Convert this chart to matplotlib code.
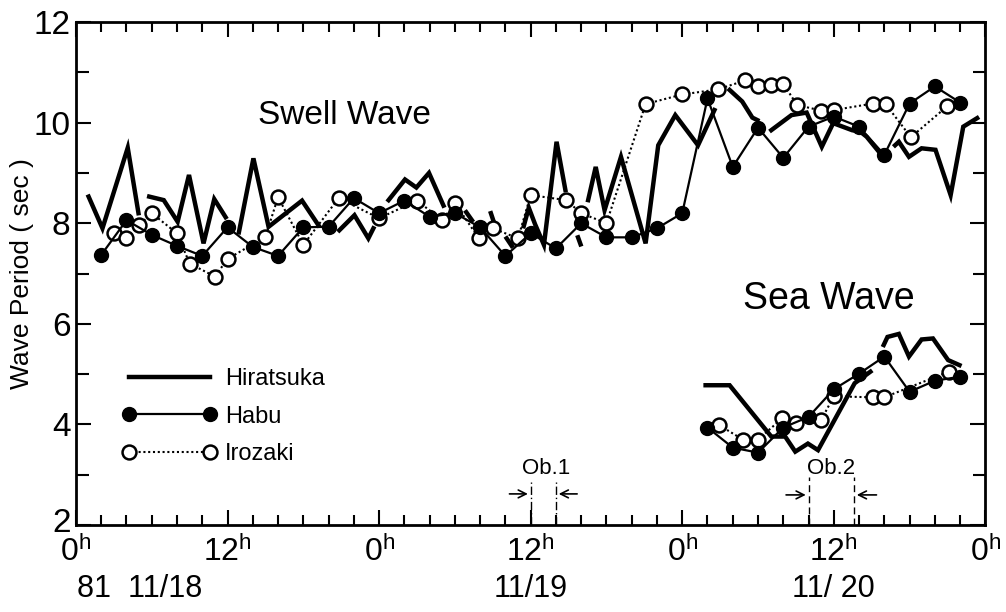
import matplotlib
matplotlib.use("Agg")
import matplotlib.pyplot as plt
from matplotlib.lines import Line2D
import matplotlib.transforms as mtransforms
import numpy as np

plt.rcParams['font.family'] = ['Liberation Sans', 'DejaVu Sans']
plt.rcParams['mathtext.default'] = 'regular'

nan = np.nan

# --- Swell wave ---
hira_swell_t = [1.0, 2.1, 4.1, 4.95, nan,
                5.8, 6.95, 8.05, 8.95, 10.1, 10.95, 11.85, nan,
                12.9, 14.05, 15.25, 17.9, 19.2, nan,
                20.85, 22.05, 23.15, 23.55, nan,
                24.75, 26.05, 26.95, 27.95, 29.1, nan,
                30.9, 31.35, nan, 32.85, 33.05, nan, 34.1, 34.5, nan,
                35.45, 35.85, 36.35, 37.05, 38.05, 38.75, nan,
                39.75, 39.95, nan,
                40.55, 41.15, 41.85, 43.15, 45.1, 46.1, 47.45, 49.25, 50.55, nan,
                51.75, 52.75, 53.55, 53.95, nan,
                55.05, 56.65, 57.85, 59.05, 59.95, 61.45, 62.1, 62.6, 63.9, nan,
                64.85, 65.15, 65.95, 66.95, 68.05, 69.25, 70.25, 71.35]
hira_swell_v = [8.53, 7.9, 9.5, 8.2, nan,
                8.53, 8.46, 8.03, 8.96, 7.6, 8.48, 8.12, nan,
                7.82, 9.29, 7.93, 8.45, 7.96, nan,
                7.86, 8.16, 7.7, 7.9, nan,
                8.46, 8.87, 8.71, 9.0, 8.35, nan,
                8.22, 8.06, nan, 8.2, 8.05, nan, 7.7, 7.55, nan,
                7.94, 8.31, 7.98, 7.57, 9.62, 8.66, nan,
                7.72, 7.58, nan,
                8.46, 9.12, 8.26, 9.32, 7.6, 9.55, 10.15, 9.55, 10.25, nan,
                10.65, 10.42, 10.1, 10.05, nan,
                9.85, 10.15, 10.2, 9.52, 9.99, 9.85, 9.82, 9.72, 9.32, nan,
                9.55, 9.62, 9.32, 9.49, 9.46, 8.56, 9.92, 10.09]

habu_swell_t = [2, 4, 6, 8, 10, 12, 14, 16, 18, 20, 22, 24, 26, 28, 30, 32, 34, 36,
                38, 40, 42, 44, 46, 48, 50, 52, 54, 56, 58, 60, 62, 64, 66, 68, 70]
habu_swell_v = [7.37, 8.06, 7.77, 7.55, 7.35, 7.92, 7.53, 7.35, 7.92, 7.93, 8.5, 8.2,
                8.45, 8.13, 8.2, 7.92, 7.35, 7.8, 7.5, 8.0, 7.72, 7.72, 7.9, 8.2,
                10.48, 9.12, 9.9, 9.3, 9.92, 10.12, 9.92, 9.36, 10.38, 10.72, 10.4]

iro_swell_t = [3.0, 4.0, 5.0, 6.0, 8.0, 9.0, 11.0, 12.0, 15.0, 16.0, 18.0, 20.8,
               24.0, 27.0, 29.0, 30.0, 31.9, 33.0, 35.0, 36.0, 38.8, 40.0, 42.0,
               45.1, 48.0, 50.8, 53.0, 54.0, 55.0, 56.0, 57.1, 59.0, 60.0, 63.1,
               64.1, 66.1, 69.0]
iro_swell_v = [7.8, 7.7, 7.96, 8.2, 7.8, 7.2, 6.94, 7.29, 7.73, 8.52, 7.57, 8.5,
               8.1, 8.45, 8.06, 8.4, 7.7, 7.9, 7.7, 8.56, 8.46, 8.2, 8.0,
               10.37, 10.56, 10.66, 10.84, 10.73, 10.75, 10.77, 10.35, 10.24, 10.25,
               10.38, 10.37, 9.71, 10.33]

# --- Sea wave ---
hira_sea_t = [49.85, 51.75, 55.05, 56.15, 56.95, 57.95, 58.75, 61.65, 62.9, nan,
              63.95, 64.25, 65.15, 65.95, 66.95, 67.85, 69.05, 69.95]
hira_sea_v = [4.78, 4.78, 3.76, 3.76, 3.46, 3.62, 3.49, 4.82, 5.05, nan,
              5.58, 5.74, 5.8, 5.35, 5.69, 5.71, 5.28, 5.18]

habu_sea_t = [50, 52, 54, 56, 58, 60, 62, 64, 66, 68, 70]
habu_sea_v = [3.94, 3.54, 3.44, 3.94, 4.15, 4.7, 5.01, 5.35, 4.65, 4.87, 4.95]

iro_sea_t = [50.9, 52.8, 54.0, 55.9, 57.0, 59.0, 60.0, 63.1, 64.0, 69.1]
iro_sea_v = [3.99, 3.7, 3.7, 4.12, 4.03, 4.09, 4.56, 4.54, 4.54, 5.05]

ob1 = [36.0, 38.0]
ob2 = [58.0, 61.6]

hour_ticks = [0, 12, 24, 36, 48, 60, 72]
hour_labels = ['0', '12', '0', '12', '0', '12', '0']

fig = plt.figure(figsize=(10.06, 6.12), dpi=100)
ax = fig.add_axes([0.0755, 0.142, 0.904, 0.822])

hira_style = dict(color='black', lw=3.2, solid_joinstyle='miter', zorder=2)
habu_style = dict(color='black', lw=1.6, marker='o', ms=10, mfc='black', mec='black', zorder=4)
iro_style = dict(color='black', lw=1.5, ls=(0, (1, 1.3)), marker='o', ms=10, mfc='white',
                 mec='black', mew=1.8, zorder=3)

ax.plot(hira_swell_t, hira_swell_v, **hira_style)
ax.plot(iro_swell_t, iro_swell_v, **iro_style)
ax.plot(habu_swell_t, habu_swell_v, **habu_style)

ax.plot(hira_sea_t, hira_sea_v, **hira_style)
ax.plot(iro_sea_t, iro_sea_v, **iro_style)
ax.plot(habu_sea_t, habu_sea_v, **habu_style)

# observation periods
for x in ob1:
    ax.plot([x, x], [2.0, 2.85], color='black', lw=1.0, ls=(0, (6, 2, 1, 2)))
for x in ob2:
    ax.plot([x, x], [2.0, 2.95], color='black', lw=1.0, ls=(0, (5, 3)))
arrow_kw = dict(arrowstyle='->', color='black', lw=1.2, mutation_scale=14)
ax.annotate('', xy=(ob1[0], 2.62), xytext=(ob1[0] - 1.9, 2.62), arrowprops=arrow_kw)
ax.annotate('', xy=(ob1[1], 2.62), xytext=(ob1[1] + 1.9, 2.62), arrowprops=arrow_kw)
ax.annotate('', xy=(ob2[0], 2.6), xytext=(ob2[0] - 2.0, 2.6), arrowprops=arrow_kw)
ax.annotate('', xy=(ob2[1], 2.6), xytext=(ob2[1] + 2.0, 2.6), arrowprops=arrow_kw)
ax.text(37.2, 3.12, 'Ob.1', fontsize=16, ha='center', va='center')
ax.text(59.8, 3.12, 'Ob.2', fontsize=16, ha='center', va='center')

ax.text(14.4, 10.15, 'Swell Wave', fontsize=24, ha='left', va='center')
ax.text(52.8, 6.5, 'Sea Wave', fontsize=27, ha='left', va='center')

# legend
handles = [Line2D([], [], **hira_style),
           Line2D([], [], **habu_style),
           Line2D([], [], **iro_style)]
leg = ax.legend(handles, ['Hiratsuka', 'Habu', 'Irozaki'], loc='upper left',
                bbox_to_anchor=(0.038, 0.335), frameon=False, fontsize=17,
                handlelength=4.0, numpoints=2, labelspacing=0.65, handletextpad=0.35,
                borderpad=0)

ax.set_xlim(0, 72)
ax.set_ylim(2, 12)
ax.set_xticks(hour_ticks)
ax.set_xticklabels(['$\\mathregular{%s^h}$' % s for s in hour_labels], fontsize=23)
ax.set_xticks(np.arange(0, 73, 2), minor=True)
ax.set_yticks([2, 4, 6, 8, 10, 12])
ax.set_yticklabels(['2', '4', '6', '8', '10', '12'], fontsize=24)
ax.set_yticks(np.arange(2, 13, 1), minor=True)
ax.tick_params(which='both', direction='in', top=True, right=True, width=1.5)
ax.tick_params(which='major', length=11)
ax.tick_params(which='minor', length=7)
ax.tick_params(axis='y', which='minor', length=9)
ax.tick_params(axis='x', which='major', pad=8)
ax.tick_params(axis='y', which='major', pad=4)
for s in ax.spines.values():
    s.set_linewidth(2)

# lift the bottom "2" a touch so it clears the first hour label
lbl2 = ax.get_yticklabels()[0]
lbl2.set_transform(lbl2.get_transform() +
                   mtransforms.ScaledTranslation(0, 5 / 100, fig.dpi_scale_trans))

ax.set_ylabel('Wave Period ( sec )', fontsize=19)
ax.yaxis.set_label_coords(-0.046, 0.5)

trans = mtransforms.blended_transform_factory(ax.transData, ax.transAxes)
ax.text(0.1, -0.127, '81  11/18', fontsize=22, ha='left', va='center', transform=trans)
ax.text(36, -0.127, '11/19', fontsize=22, ha='center', va='center', transform=trans)
ax.text(60, -0.127, '11/ 20', fontsize=22, ha='center', va='center', transform=trans)

fig.savefig('out.png', dpi=100)
